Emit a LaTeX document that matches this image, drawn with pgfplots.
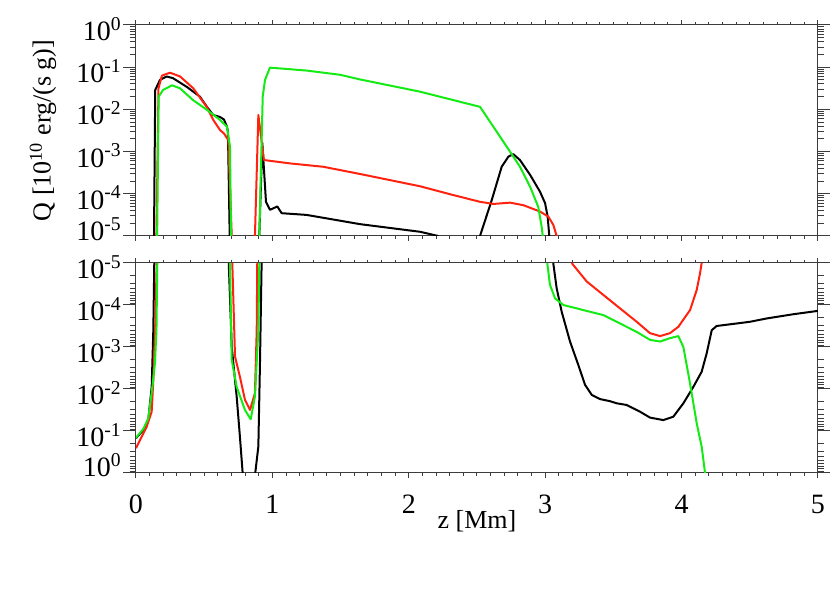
\documentclass[border=0pt]{standalone}
\usepackage{fontspec}
\setmainfont{Liberation Serif}
\usepackage{pgfplots}
\pgfplotsset{compat=1.18}
\definecolor{cred}{RGB}{255,35,15}
\definecolor{cgreen}{RGB}{20,235,20}
\definecolor{axgray}{RGB}{60,60,60}
\newcommand\lab[1]{10\textsuperscript{#1}}
\pgfplotsset{
   tick align=outside,
   axis line style={line width=0.5pt, axgray},
   every tick/.style={axgray, line width=0.5pt},
   major tick length=6.5pt, minor tick length=3pt,
   xtick style={/pgfplots/major tick length=2.5pt,/pgfplots/minor tick length=1.5pt},
   yticklabel style={font=\fontsize{14}{16}\selectfont, inner sep=0pt, anchor=east, xshift=-0.5pt, yshift=-2pt},
   xticklabel style={font=\fontsize{14}{16}\selectfont, anchor=base, yshift=-14pt},
   every axis plot/.append style={line width=1pt, line join=round},
}
\begin{document}
\begin{tikzpicture}
\path[use as bounding box] (-68pt,-68.5pt) rectangle (347pt,236.5pt);
% ---------------- top panel ----------------
\begin{axis}[width=341pt, height=105.5pt, scale only axis, at={(0pt,118.5pt)}, anchor=south west,
  xmin=0, xmax=5, ymode=log, ymin=1e-5, ymax=1,
  xtick={0,1,2,3,4,5}, minor x tick num=9,
  ytick={1e-4,1e-3,1e-2,1e-1,1},
  yticklabels={\lab{-4},\lab{-3},\lab{-2},\lab{-1},\lab{0}},
  extra y ticks={1e-5}, extra y tick labels={\lab{-5}},
  extra y tick style={yticklabel style={yshift=5.5pt}},
  minor ytick={2e-5,3e-5,4e-5,5e-5,6e-5,7e-5,8e-5,9e-5,2e-4,3e-4,4e-4,5e-4,6e-4,7e-4,8e-4,9e-4,2e-3,3e-3,4e-3,5e-3,6e-3,7e-3,8e-3,9e-3,2e-2,3e-2,4e-2,5e-2,6e-2,7e-2,8e-2,9e-2,0.2,0.3,0.4,0.5,0.6,0.7,0.8,0.9},
  xticklabels={},
  ylabel={Q [10\textsuperscript{10} erg/(s g)]},
  every axis y label/.style={at={(axis description cs:-0.1364,0.5)}, anchor=center, rotate=90, font=\fontsize{13}{15}\selectfont}]
% black
\addplot[black] coordinates {(0.132,1e-5)(0.141,2.88e-2)(0.176,5.01e-2)(0.225,6.03e-2)(0.271,5.50e-2)(0.374,3.39e-2)(0.469,2.00e-2)(0.520,1.15e-2)(0.565,7.41e-3)(0.616,6.61e-3)(0.645,5.75e-3)(0.667,3.89e-3)(0.674,2.95e-3)(0.687,1e-5)};
\addplot[black] coordinates {(0.904,1e-5)(0.926,1.62e-3)(0.953,6.46e-5)(0.982,4.17e-5)(1.036,5.01e-5)(1.068,3.47e-5)(1.251,3.16e-5)(1.642,1.91e-5)(2.082,1.26e-5)(2.216,1e-5)};
\addplot[black] coordinates {(2.522,1e-5)(2.608,7.08e-5)(2.681,4.37e-4)(2.730,7.59e-4)(2.766,8.71e-4)(2.815,6.31e-4)(2.889,2.82e-4)(2.962,1.12e-4)(2.999,6.03e-5)(3.018,2.88e-5)(3.030,1e-5)};
% red
\addplot[cred] coordinates {(0.150,1e-5)(0.165,3.16e-2)(0.190,6.31e-2)(0.249,7.41e-2)(0.323,6.03e-2)(0.420,3.16e-2)(0.518,1.15e-2)(0.567,5.62e-3)(0.616,3.24e-3)(0.645,2.69e-3)(0.677,1.86e-3)(0.702,1e-5)};
\addplot[cred] coordinates {(0.872,1e-5)(0.897,7.41e-3)(0.938,6.31e-4)(1.129,5.25e-4)(1.373,4.37e-4)(1.642,2.95e-4)(2.082,1.51e-4)(2.326,9.33e-5)(2.522,6.46e-5)(2.620,5.75e-5)(2.742,6.17e-5)(2.840,5.37e-5)(2.962,3.80e-5)(3.023,2.88e-5)(3.060,1.82e-5)(3.084,1e-5)};
% green
\addplot[cgreen] coordinates {(0.155,1e-5)(0.166,2.00e-2)(0.198,2.88e-2)(0.264,3.72e-2)(0.323,3.16e-2)(0.418,1.66e-2)(0.520,9.77e-3)(0.616,5.62e-3)(0.667,3.89e-3)(0.689,1.32e-3)(0.697,1e-5)};
\addplot[cgreen] coordinates {(0.904,1e-5)(0.929,2.00e-2)(0.946,5.01e-2)(0.982,9.77e-2)(1.251,8.32e-2)(1.496,6.61e-2)(1.642,5.13e-2)(2.082,2.63e-2)(2.522,1.15e-2)(2.595,5.13e-3)(2.742,1.00e-3)(2.815,4.37e-4)(2.889,1.48e-4)(2.949,4.90e-5)(2.974,1.66e-5)(2.982,1e-5)};
\end{axis}
% ---------------- bottom panel ----------------
\begin{axis}[width=341pt, height=105pt, scale only axis, at={(0pt,0pt)}, anchor=south west,
  xmin=0, xmax=5, ymode=log, ymin=1e-5, ymax=1, y dir=reverse,
  xtick={0,1,2,3,4,5}, minor x tick num=9,
  xticklabels={0,1,2,3,4,5},
  ytick={1e-5,1e-4,1e-3,1e-2,1e-1},
  yticklabels={\lab{-5},\lab{-4},\lab{-3},\lab{-2},\lab{-1}},
  extra y ticks={1}, extra y tick labels={\lab{0}},
  extra y tick style={yticklabel style={yshift=6pt}},
  minor ytick={2e-5,3e-5,4e-5,5e-5,6e-5,7e-5,8e-5,9e-5,2e-4,3e-4,4e-4,5e-4,6e-4,7e-4,8e-4,9e-4,2e-3,3e-3,4e-3,5e-3,6e-3,7e-3,8e-3,9e-3,2e-2,3e-2,4e-2,5e-2,6e-2,7e-2,8e-2,9e-2,0.2,0.3,0.4,0.5,0.6,0.7,0.8,0.9},
  xlabel={z [Mm]},
  every axis x label/.style={at={(axis description cs:0.5,-0.229)}, anchor=center, font=\fontsize{13}{15}\selectfont}]
% black
\addplot[black] coordinates {(0.000,1.48e-1)(0.054,9.55e-2)(0.090,5.50e-2)(0.115,8.91e-3)(0.127,3.98e-4)(0.134,1e-5)};
\addplot[black] coordinates {(0.680,1e-5)(0.702,1.00e-3)(0.738,1.51e-2)(0.762,1.38e-1)(0.786,1.5)(0.868,1.5)(0.897,2.34e-1)(0.909,2.40e-3)(0.921,1e-5)};
\addplot[black] coordinates {(3.059,1e-5)(3.084,3.98e-5)(3.121,1.45e-4)(3.182,7.41e-4)(3.243,2.69e-3)(3.292,7.94e-3)(3.341,1.38e-2)(3.402,1.74e-2)(3.475,1.95e-2)(3.524,2.19e-2)(3.597,2.40e-2)(3.695,3.47e-2)(3.768,4.79e-2)(3.866,5.50e-2)(3.939,4.57e-2)(4.013,2.19e-2)(4.086,8.91e-3)(4.147,3.89e-3)(4.184,1.41e-3)(4.221,3.98e-4)(4.257,3.16e-4)(4.379,2.82e-4)(4.501,2.51e-4)(4.624,2.09e-4)(4.819,1.66e-4)(5.000,1.38e-4)};
% red
\addplot[cred] coordinates {(0.000,2.57e-1)(0.078,7.94e-2)(0.115,3.47e-2)(0.127,6.17e-3)(0.140,3.98e-4)(0.152,1e-5)};
\addplot[cred] coordinates {(0.706,1e-5)(0.726,1.70e-3)(0.762,5.13e-3)(0.799,1.82e-2)(0.836,3.16e-2)(0.872,1.26e-2)(0.885,3.98e-4)(0.889,1e-5)};
\addplot[cred] coordinates {(3.194,1e-5)(3.304,2.75e-5)(3.426,5.75e-5)(3.548,1.20e-4)(3.671,2.51e-4)(3.768,4.68e-4)(3.842,5.50e-4)(3.915,4.68e-4)(3.976,3.31e-4)(4.062,1.32e-4)(4.111,4.37e-5)(4.135,1.78e-5)(4.147,1e-5)};
% green
\addplot[cgreen] coordinates {(0.000,1.45e-1)(0.054,8.91e-2)(0.090,5.01e-2)(0.120,8.91e-3)(0.139,2.40e-3)(0.150,3.98e-4)(0.156,1e-5)};
\addplot[cgreen] coordinates {(0.689,1e-5)(0.702,2.04e-3)(0.738,8.91e-3)(0.799,3.16e-2)(0.841,5.25e-2)(0.872,1.51e-2)(0.897,3.98e-4)(0.904,1e-5)};
\addplot[cgreen] coordinates {(3.015,1e-5)(3.035,3.31e-5)(3.072,6.92e-5)(3.133,1.00e-4)(3.255,1.26e-4)(3.426,1.74e-4)(3.548,2.75e-4)(3.671,4.37e-4)(3.768,6.76e-4)(3.842,7.41e-4)(3.915,6.17e-4)(3.976,5.50e-4)(4.013,1.00e-3)(4.062,7.41e-3)(4.111,6.61e-2)(4.147,2.34e-1)(4.172,1.0)(4.180,1.6)};
\end{axis}
\end{tikzpicture}
\end{document}
